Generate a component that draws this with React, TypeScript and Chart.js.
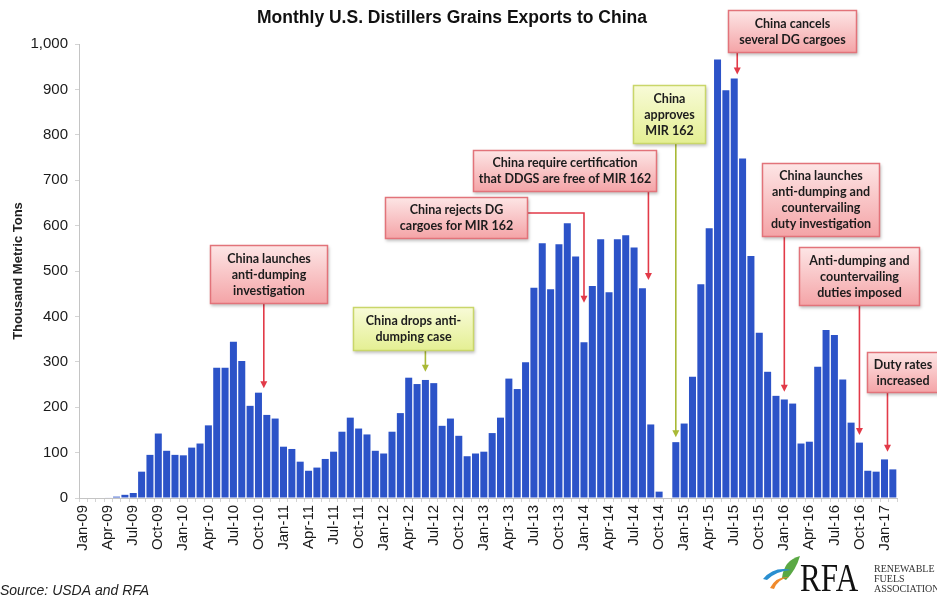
import React, { useEffect, useRef } from 'react';
import { Chart, registerables } from 'chart.js';

Chart.register(...registerables);

// ---------- DATA ----------
const monthNames = ['Jan', 'Feb', 'Mar', 'Apr', 'May', 'Jun', 'Jul', 'Aug', 'Sep', 'Oct', 'Nov', 'Dec'];
const categories: string[] = [];
for (let yr = 9; yr <= 17; yr++) {
  for (let m = 0; m < 12; m++) {
    if (yr === 17 && m > 1) break;
    categories.push(`${monthNames[m]}-${String(yr).padStart(2, '0')}`);
  }
}

const exports2009 = [0, 0, 0, 1, 3, 7, 11, 58, 95, 142, 104, 95];
const exports2010 = [94, 111, 120, 160, 287, 287, 344, 302, 203, 232, 183, 175];
const exports2011 = [113, 108, 80, 60, 67, 86, 102, 146, 177, 153, 140, 104];
const exports2012 = [98, 146, 187, 265, 251, 260, 253, 159, 175, 137, 92, 98];
const exports2013 = [102, 143, 177, 263, 240, 299, 463, 561, 460, 559, 605, 532];
const exports2014 = [343, 467, 570, 453, 570, 579, 552, 462, 162, 14, 0, 123];
const exports2015 = [164, 267, 471, 594, 966, 898, 924, 748, 533, 364, 278, 225];
const exports2016 = [217, 208, 120, 124, 289, 370, 359, 261, 166, 122, 60, 58];
const exports2017 = [85, 63];

const exportsValues = [
  ...exports2009, ...exports2010, ...exports2011, ...exports2012, ...exports2013,
  ...exports2014, ...exports2015, ...exports2016, ...exports2017,
];

const yTicks = [0, 100, 200, 300, 400, 500, 600, 700, 800, 900, 1000];
const tickEvery = 3;

const titleText = 'Monthly U.S. Distillers Grains Exports to China';
const yTitleText = 'Thousand Metric Tons';
const sourceText = 'Source: USDA and RFA';

// annotation texts and their targets (month + value level where arrow ends)
const annotationTexts = [
  ['China launches', 'anti-dumping', 'investigation'],
  ['China drops anti-', 'dumping case'],
  ['China rejects DG', 'cargoes for MIR 162'],
  ['China require certification', 'that DDGS are free of MIR 162'],
  ['China', 'approves', 'MIR 162'],
  ['China cancels', 'several DG cargoes'],
  ['China launches', 'anti-dumping and', 'countervailing', 'duty investigation'],
  ['Anti-dumping and', 'countervailing', 'duties imposed'],
  ['Duty rates', 'increased'],
];
const annotationMonths = ['Nov-10', 'Jun-12', 'Jan-14', 'Aug-14', 'Dec-14', 'Jul-15', 'Jan-16', 'Oct-16', 'Jan-17'];
const annotationTipValues = [242, 278, 430, 480, 134, 933, 234, 139, 102];
const annotationKinds = ['red', 'green', 'red', 'red', 'green', 'red', 'red', 'red', 'red'];

// ---------- LAYOUT (box geometry) ----------
const boxLayout = [
  { x: 210, y: 245, w: 118, h: 59, dx: -3 },
  { x: 353, y: 307, w: 121, h: 44, dx: 0 },
  { x: 385, y: 197, w: 143, h: 42, dx: 0, side: true, sideY: 213 },
  { x: 473, y: 150, w: 184, h: 42, dx: 6 },
  { x: 633, y: 85, w: 73, h: 59, dx: 0 },
  { x: 728, y: 10, w: 129, h: 43, dx: 3 },
  { x: 762, y: 163, w: 118, h: 74, dx: 0 },
  { x: 799, y: 247, w: 121, h: 59, dx: 0 },
  { x: 867, y: 352, w: 72, h: 41, dx: 3 },
];

const kindStyles: Record<string, { top: string; bottom: string; border: string; arrow: string }> = {
  red: { top: '#fde6e6', bottom: '#f4a3a6', border: '#e2737a', arrow: '#e23a48' },
  green: { top: '#f8fbd8', bottom: '#e4ef92', border: '#c9d66a', arrow: '#a9b936' },
};

function drawArrowHead(ctx: CanvasRenderingContext2D, x: number, y: number, color: string) {
  ctx.fillStyle = color;
  ctx.beginPath();
  ctx.moveTo(x, y);
  ctx.lineTo(x - 3.5, y - 7);
  ctx.lineTo(x + 3.5, y - 7);
  ctx.closePath();
  ctx.fill();
}

const decorPlugin = {
  id: 'decor',
  afterDraw(chart: any) {
    const ctx: CanvasRenderingContext2D = chart.ctx;
    const xs = chart.scales.x;
    const ys = chart.scales.y;
    ctx.save();

    // title
    ctx.fillStyle = '#111';
    ctx.font = 'bold 17.5px "Liberation Sans", Arial, sans-serif';
    ctx.textAlign = 'center';
    ctx.textBaseline = 'middle';
    ctx.fillText(titleText, 452, 18);

    // y-axis title
    ctx.save();
    ctx.translate(18, 271);
    ctx.rotate(-Math.PI / 2);
    ctx.font = 'bold 13px "Liberation Sans", Arial, sans-serif';
    ctx.fillStyle = '#222';
    ctx.fillText(yTitleText, 0, 0);
    ctx.restore();

    // source
    ctx.textAlign = 'left';
    ctx.textBaseline = 'alphabetic';
    ctx.font = 'italic 14px "Liberation Sans", Arial, sans-serif';
    ctx.fillStyle = '#222';
    ctx.fillText(sourceText, 0, 595);

    // logo swoosh
    ctx.fillStyle = '#5aa844';
    ctx.beginPath();
    ctx.moveTo(782, 578);
    ctx.quadraticCurveTo(784, 560, 800, 556);
    ctx.quadraticCurveTo(796, 570, 786, 580);
    ctx.closePath();
    ctx.fill();
    ctx.fillStyle = '#2a8fd0';
    ctx.beginPath();
    ctx.moveTo(763, 579);
    ctx.quadraticCurveTo(774, 566, 791, 570);
    ctx.quadraticCurveTo(776, 571, 767, 580);
    ctx.closePath();
    ctx.fill();
    ctx.fillStyle = '#f08a2c';
    ctx.beginPath();
    ctx.moveTo(770, 588);
    ctx.quadraticCurveTo(776, 576, 789, 577);
    ctx.quadraticCurveTo(778, 579, 774, 589);
    ctx.closePath();
    ctx.fill();

    // RFA text
    ctx.save();
    ctx.translate(800, 591);
    ctx.scale(0.76, 1);
    ctx.font = '41px "Liberation Serif", "DejaVu Serif", serif';
    ctx.fillStyle = '#111';
    ctx.fillText('RFA', 0, 0);
    ctx.restore();
    ctx.font = '10px "Liberation Serif", serif';
    ctx.fillStyle = '#333';
    ctx.fillText('RENEWABLE', 874, 572);
    ctx.fillText('FUELS', 874, 582);
    ctx.fillText('ASSOCIATION', 874, 592);

    // annotations
    annotationTexts.forEach((lines, i) => {
      const b = boxLayout[i];
      const st = kindStyles[annotationKinds[i]];
      const idx = categories.indexOf(annotationMonths[i]);
      const ax = xs.getPixelForValue(idx) + b.dx;
      const tipY = ys.getPixelForValue(annotationTipValues[i]);

      // connector
      ctx.strokeStyle = st.arrow;
      ctx.lineWidth = 1.6;
      ctx.beginPath();
      if (b.side) {
        ctx.moveTo(b.x + b.w, b.sideY);
        ctx.lineTo(ax, b.sideY);
        ctx.lineTo(ax, tipY - 5);
      } else {
        ctx.moveTo(ax, b.y + b.h);
        ctx.lineTo(ax, tipY - 5);
      }
      ctx.stroke();
      drawArrowHead(ctx, ax, tipY, st.arrow);

      // box
      ctx.save();
      ctx.shadowColor = 'rgba(0,0,0,0.25)';
      ctx.shadowBlur = 3;
      ctx.shadowOffsetX = 1;
      ctx.shadowOffsetY = 2;
      const g = ctx.createLinearGradient(0, b.y, 0, b.y + b.h);
      g.addColorStop(0, st.top);
      g.addColorStop(1, st.bottom);
      ctx.fillStyle = g;
      ctx.fillRect(b.x, b.y, b.w, b.h);
      ctx.restore();
      ctx.strokeStyle = st.border;
      ctx.lineWidth = 1.5;
      ctx.strokeRect(b.x + 0.5, b.y + 0.5, b.w - 1, b.h - 1);

      ctx.fillStyle = '#1c1c1c';
      ctx.font = 'bold 12.5px Lato, "Open Sans", sans-serif';
      ctx.textAlign = 'center';
      ctx.textBaseline = 'middle';
      const lh = 16;
      const cy = b.y + b.h / 2;
      lines.forEach((ln, k) => {
        ctx.fillText(ln, b.x + b.w / 2, cy + (k - (lines.length - 1) / 2) * lh);
      });
    });

    ctx.restore();
  },
};

export default function App() {
  const ref = useRef<HTMLCanvasElement | null>(null);

  useEffect(() => {
    document.body.style.margin = '0';
    const canvas = ref.current;
    if (!canvas) return;
    const chart = new Chart(canvas, {
      type: 'bar',
      data: {
        labels: categories,
        datasets: [
          {
            label: 'Exports',
            data: exportsValues,
            backgroundColor: '#2c53c8',
            borderWidth: 0,
            categoryPercentage: 1.0,
            barPercentage: 0.84,
          },
        ],
      },
      options: {
        responsive: false,
        animation: false,
        devicePixelRatio: 1,
        layout: { padding: { left: 0, right: 40, top: 44, bottom: 0 } },
        plugins: {
          legend: { display: false },
          tooltip: { enabled: false },
          title: { display: false },
        },
        scales: {
          x: {
            offset: true,
            grid: { drawOnChartArea: false, drawTicks: true, tickLength: 4, color: '#d4d4d4' },
            border: { color: '#c4c4c4' },
            ticks: {
              autoSkip: false,
              maxRotation: 90,
              minRotation: 90,
              padding: 3,
              color: '#1a1a1a',
              font: { family: '"Liberation Sans", Arial, sans-serif', size: 15 },
              callback: function (this: any, value: any, index: number) {
                return index % tickEvery === 0 ? categories[index] : '';
              },
            },
            afterFit(scale: any) {
              scale.height = 98;
            },
          },
          y: {
            min: 0,
            max: 1000,
            afterBuildTicks(scale: any) {
              scale.ticks = yTicks.map((v) => ({ value: v }));
            },
            grid: { drawOnChartArea: false, drawTicks: true, tickLength: 4, color: '#d4d4d4' },
            border: { color: '#c4c4c4' },
            ticks: {
              padding: 7,
              color: '#1a1a1a',
              font: { family: '"Liberation Sans", Arial, sans-serif', size: 15 },
              callback: (v: any) => Number(v).toLocaleString('en-US'),
            },
            afterFit(scale: any) {
              scale.width = 79;
            },
          },
        },
      },
      plugins: [decorPlugin],
    });
    return () => chart.destroy();
  }, []);

  return (
    <div style={{ width: 937, height: 596, position: 'relative', background: '#fff' }}>
      <canvas ref={ref} width={937} height={596} style={{ display: 'block', width: 937, height: 596 }} />
    </div>
  );
}
